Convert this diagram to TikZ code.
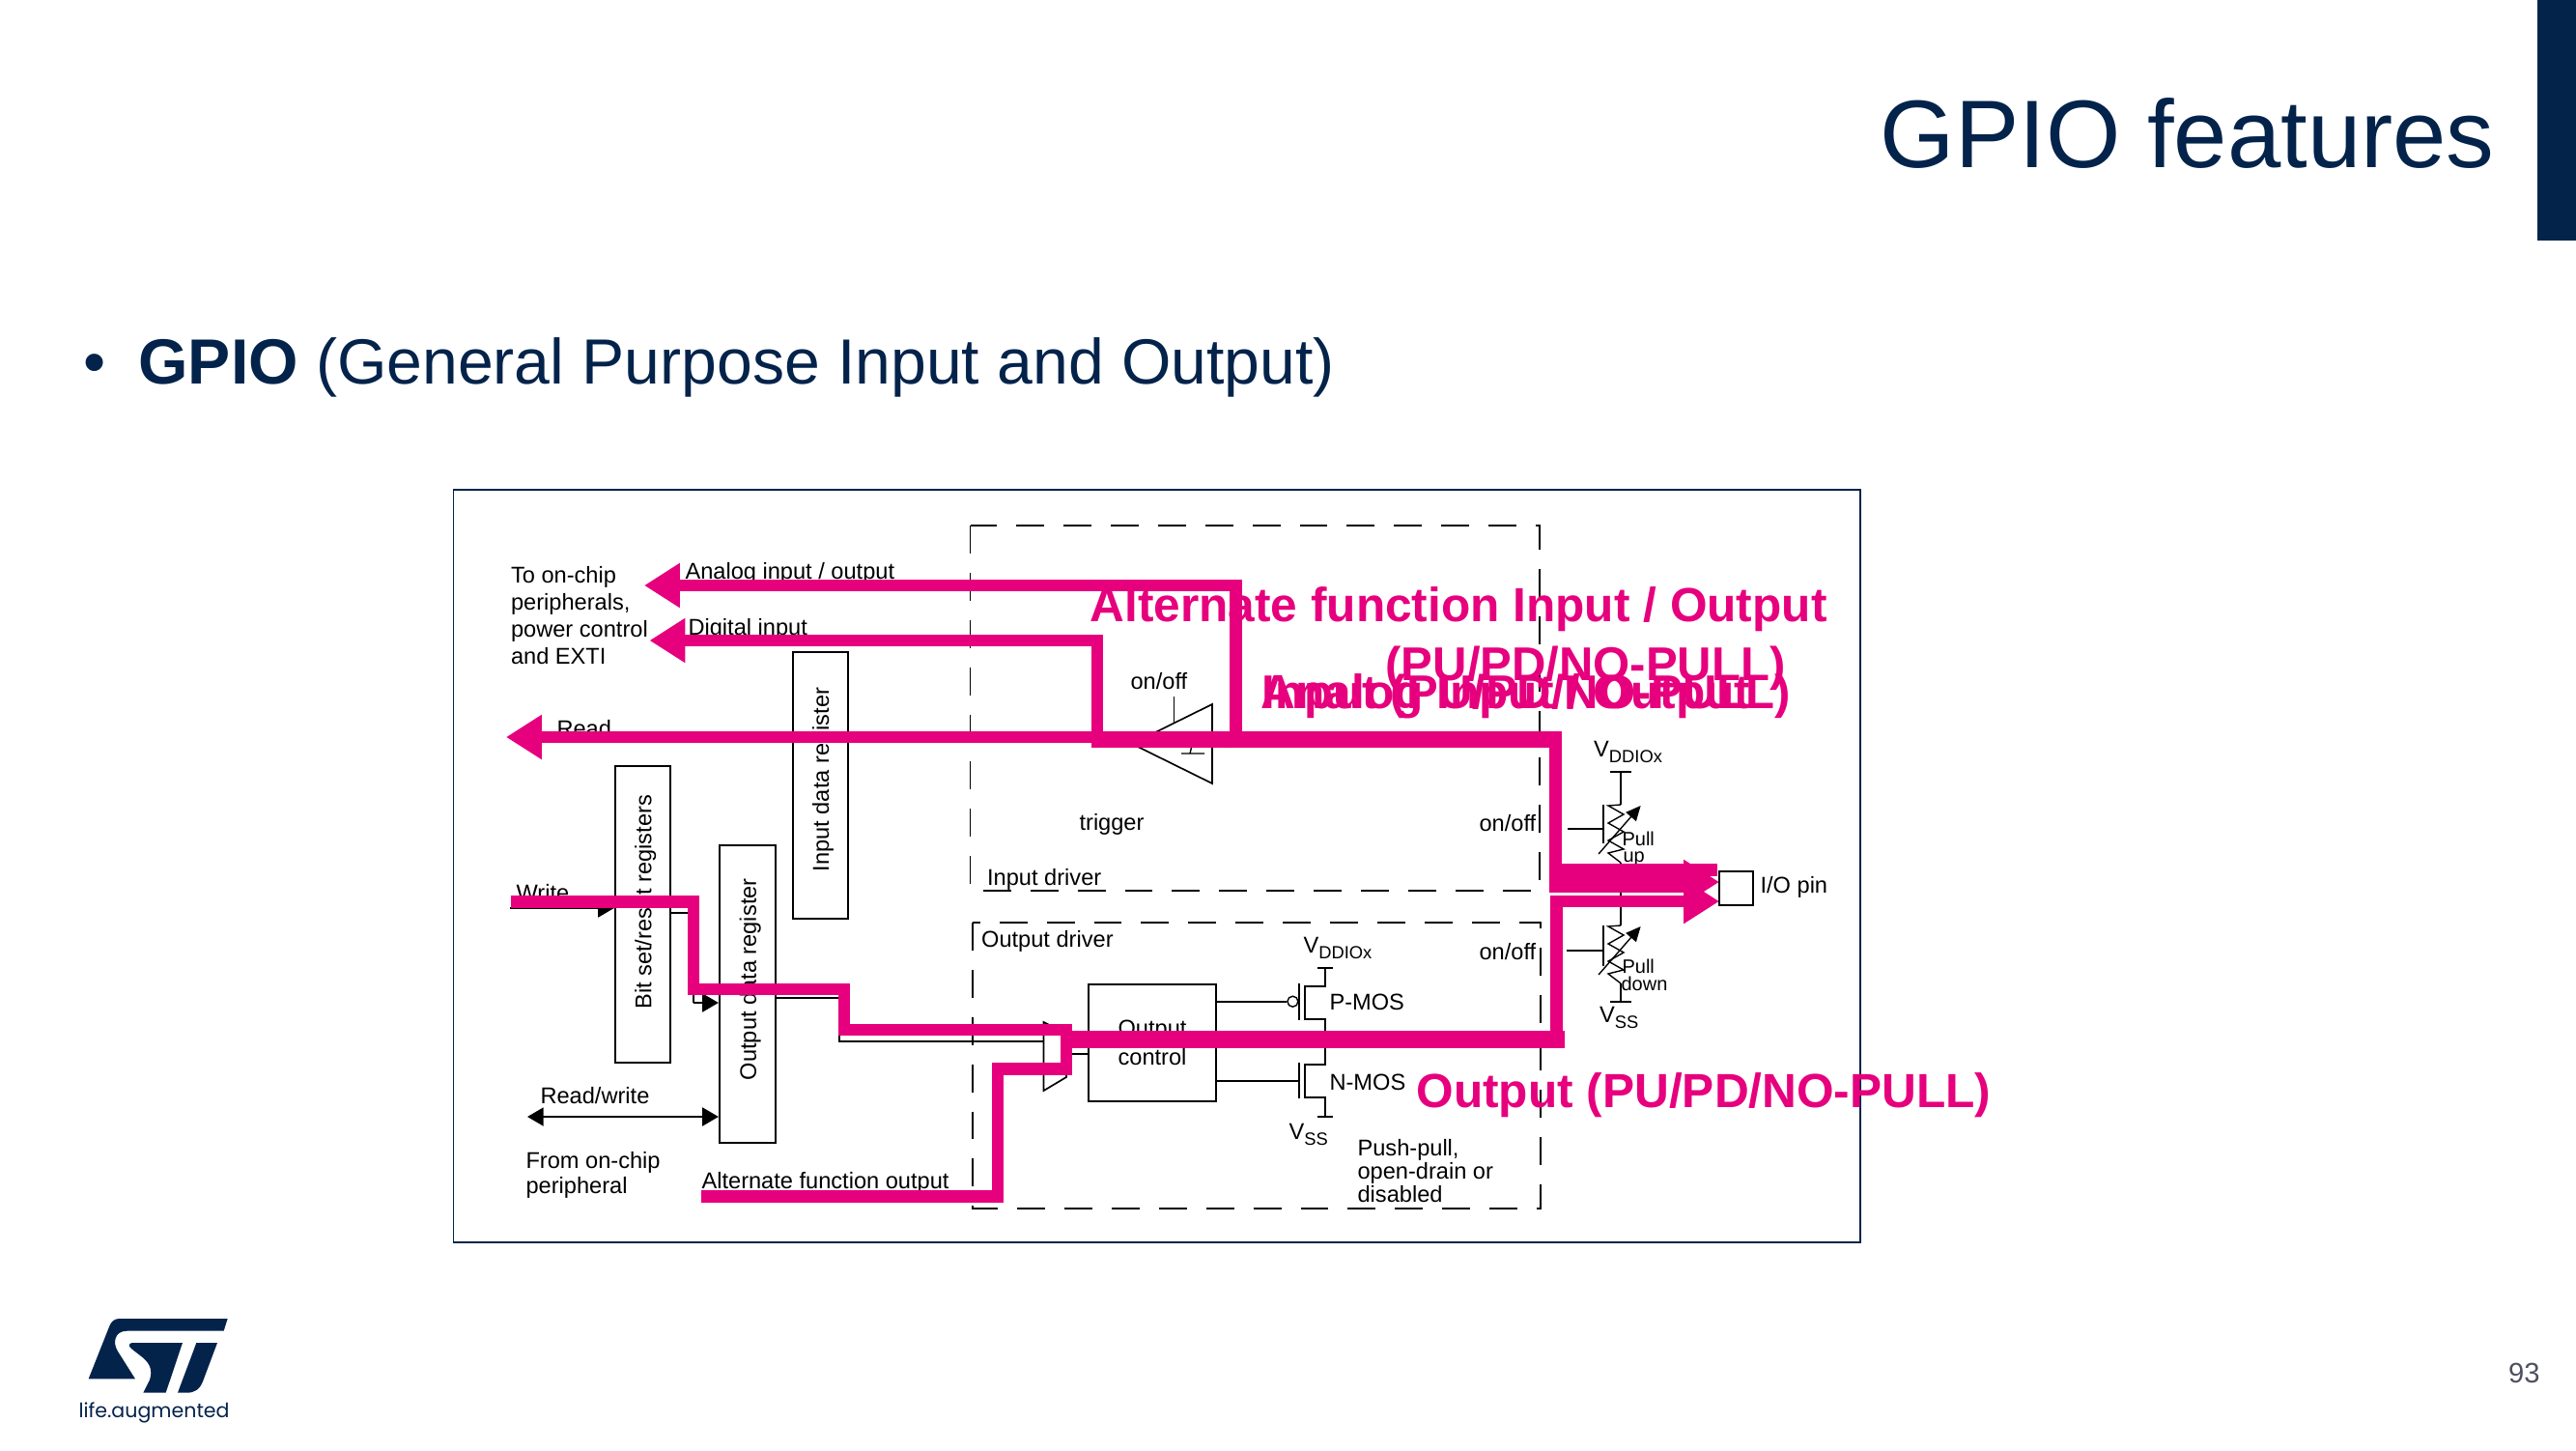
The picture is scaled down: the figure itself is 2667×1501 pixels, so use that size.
\documentclass[tikz,border=0pt]{standalone}
\usepackage{fontspec}
\usepackage{graphicx}
\setmainfont{Liberation Sans}
\newfontfamily\logofont{Poppins}
\usetikzlibrary{arrows.meta}

\definecolor{stblue}{HTML}{03234B}
\definecolor{stpink}{HTML}{E6007E}
\definecolor{pagegray}{HTML}{4F5060}
\newcommand{\px}{0.36pt}
\newcommand{\vsub}[1]{V\raisebox{-2.4pt}{\fontsize{6.6}{7}\selectfont #1}}
\newcommand{\vlabel}[2]{\rotatebox{90}{\hspace{#1}\rule{0pt}{8.1pt}#2}}

\tikzstyle{register} = [rectangle, draw=black, line width=0.8pt, inner sep=0pt, font=\fontsize{8.5}{10}\selectfont]
\tikzstyle{pinbox} = [rectangle, draw=black, line width=0.7pt, inner sep=0pt, minimum width=35*\px, minimum height=35*\px]
\tikzstyle{bubble} = [circle, draw=black, line width=0.5pt, inner sep=0pt, minimum size=11*\px]
\tikzstyle{diagtext} = [anchor=base west, inner sep=0pt, font=\fontsize{8.5}{10}\selectfont]
\tikzstyle{smalltext} = [anchor=base west, inner sep=0pt, font=\fontsize{7.2}{8}\selectfont]
\tikzstyle{blocktext} = [anchor=north west, inner sep=0pt, align=left]
\tikzstyle{overlay} = [anchor=base west, inner sep=0pt, text=stpink, font=\fontsize{17.85}{22}\selectfont\bfseries]
\tikzstyle{overlaypull} = [overlay, font=\fontsize{17.65}{22}\selectfont\bfseries]
\tikzstyle{driver} = [draw=black, line width=0.6pt, dash pattern=on 10.4pt off 7.2pt]
\tikzstyle{wire} = [draw=black, line width=0.5pt]
\tikzstyle{boldwire} = [draw=black, line width=0.8pt]
\tikzstyle{arrow} = [boldwire,-{Triangle[length=6pt,width=6.8pt]}]
\tikzstyle{bothways} = [boldwire,{Triangle[length=6pt,width=6.8pt]}-{Triangle[length=6pt,width=6.8pt]}]
\tikzstyle{pinkline} = [draw=stpink, line width=4.5pt]
\tikzstyle{pinkbus} = [draw=stpink, line width=6.7pt]
\tikzstyle{pinkarrow} = [pinkline,-{Triangle[length=13.3pt,width=15.8pt]}]

\begin{document}
\begin{tikzpicture}[x=0.36pt,y=-0.36pt]
\useasboundingbox (0,0) rectangle (2667,1501);

	%Slide furniture
	\fill[stblue] (2627,0) rectangle (2667,249);
	\node[anchor=base east, inner sep=0pt, text=stblue, font=\fontsize{35.8}{40}\selectfont](Title) at (2583,174) {GPIO features};
	\node[anchor=base west, inner sep=0pt, text=stblue, font=\fontsize{23.8}{28}\selectfont](Bullet) at (86,397) {•};
	\node[anchor=base west, inner sep=0pt, text=stblue, font=\fontsize{23.8}{28}\selectfont](Heading) at (143,397) {\textbf{GPIO} (General Purpose Input and Output)};
	\node[anchor=base east, inner sep=0pt, text=pagegray, font=\fontsize{10.5}{12}\selectfont](PageNo) at (2630,1431) {93};
	\draw[stblue, line width=0.7pt] (469.5,507) rectangle (1925.5,1286);

	%Logo, traced in its own grid
	\begin{scope}[shift={(60,1340)},x=0.12pt,y=-0.12pt]
		\fill[stblue] (527,75) -- (190,75) .. controls (175,75) and (165,85) .. (160,98) -- (95,262) -- (240,262) -- (185,175) .. controls (170,150) and (175,113) .. (215,113) -- (515,113) -- cycle;
		\fill[stblue] (232,150) -- (387,150) -- (335,305) -- (265,305) -- (285,265) .. controls (295,235) and (285,215) .. (265,197) -- (228,168) .. controls (218,160) and (220,150) .. (232,150) -- cycle;
		\fill[stblue] (430,150) -- (495,150) -- (450,270) .. controls (440,295) and (425,305) .. (400,305) -- (372,305) -- cycle;
	\end{scope}
	\node[anchor=base west, inner sep=0pt, text=stblue, font=\logofont\fontsize{7.4}{9}\selectfont](LogoText) at (81,1467.7) {life.augmented};

	%Driver outlines
	\path[driver] (1004.5,544) rectangle (1594,921.7);
	\path[driver] (1006.7,955) rectangle (1595,1250.7);

	%Nodes for the registers and the output block
	\node[register, minimum width=56.6*\px, minimum height=276*\px](InputRegister) at (849.3,813) {\vlabel{4.3pt}{Input data register}};
	\node[register, minimum width=57*\px, minimum height=307*\px](BitRegister) at (665.5,946.5) {\vlabel{9.2pt}{Bit set/reset registers}};
	\node[register, minimum width=58*\px, minimum height=308*\px](OutputRegister) at (774,1029) {\vlabel{11pt}{Output data register}};
	\node[register, align=center, minimum width=132*\px, minimum height=121*\px, font=\fontsize{8.5}{11}\selectfont](OutputControl) at (1193,1079.5) {Output\\control};
	\node[pinbox](IOPin) at (1797,919.5) {};
	\node[diagtext](IOLabel) at (1822,924) {I/O pin};

	%Texts of the left side
	\node[blocktext, font=\fontsize{8.5}{10}\selectfont](ToChip) at (528.5,586) {To on-chip\\peripherals,\\power control\\and EXTI};
	\node[diagtext](AnalogLabel) at (709,599) {Analog input / output};
	\node[diagtext](DigitalLabel) at (712,657) {Digital input};
	\node[diagtext](ReadLabel) at (576,762) {Read};
	\node[diagtext](WriteLabel) at (534,932) {Write};
	\node[diagtext](RWLabel) at (559,1142) {Read/write};
	\node[blocktext, font=\fontsize{8.5}{9.4}\selectfont](FromChip) at (544,1192) {From on-chip\\peripheral};
	\node[diagtext](AltLabel) at (726,1230) {Alternate function output};

	%Texts of the driver boxes
	\node[diagtext](InputDriver) at (1021.6,916) {Input driver};
	\node[diagtext](OutputDriver) at (1015.6,980.7) {Output driver};
	\node[diagtext](TriggerLabel) at (1117,859) {trigger};
	\node[diagtext](TriggerOnOff) at (1170,713) {on/off};
	\node[diagtext](PullUpOnOff) at (1531,860) {on/off};
	\node[diagtext](PullDownOnOff) at (1531,993) {on/off};
	\node[diagtext](VddOut) at (1349,986) {\vsub{DDIOx}};
	\node[diagtext](VddPin) at (1649.6,783) {\vsub{DDIOx}};
	\node[diagtext](VssOut) at (1334,1179) {\vsub{SS}};
	\node[diagtext](VssPin) at (1655.5,1058) {\vsub{SS}};
	\node[diagtext](PMosLabel) at (1376,1045.7) {P-MOS};
	\node[diagtext](NMosLabel) at (1376,1128.7) {N-MOS};
	\node[blocktext, font=\fontsize{8.5}{8.6}\selectfont](PushPull) at (1405,1179) {Push-pull,\\open-drain or\\disabled};
	\node[smalltext](PullUpA) at (1679,875) {Pull};
	\node[smalltext](PullUpB) at (1680,892.7) {up};
	\node[smalltext](PullDownA) at (1679,1007.7) {Pull};
	\node[smalltext](PullDownB) at (1678,1025.7) {down};

	%Black arrows of the left side
	\coordinate(WriteIn) at (528,940);
	\coordinate(ReadWriteIn) at (546,1156);
	\coordinate(SetOut) at (718,945);
	\coordinate(SetDown) at (718,1038);
	\coordinate(DataOut) at (869,1033);
	\coordinate(MuxIn) at (1080.5,1078);
	\coordinate(MuxOut) at (1104,1091);
	\path[arrow] (WriteIn) -- (BitRegister.west |- WriteIn);
	\path[bothways] (ReadWriteIn) -- (OutputRegister.west |- ReadWriteIn);
	\path[boldwire] (BitRegister.east |- SetOut) -- (SetOut) -- (SetDown);
	\path[arrow] (SetDown) -- (OutputRegister.west |- SetDown);
	\path[boldwire] (OutputRegister.east |- DataOut) -- (DataOut) |- (MuxIn);
	\path[boldwire] (MuxOut) -- (OutputControl.west |- MuxOut);

	%Mux and trigger
	\draw[wire, line width=0.6pt] (1080.5,1058) -- (1104,1070) -- (1104,1115) -- (1080.5,1129) -- cycle;
	\draw[wire, line width=0.6pt] (1172,770) -- (1255,729) -- (1255,811) -- cycle;
	\draw[wire] (1223,780) -- (1247,780) (1232,780) -- (1236,763);
	\coordinate(TriggerTop) at (1215.6,749);
	\coordinate(TriggerCtl) at (1215.6,721);
	\path[wire] (TriggerCtl) -- (TriggerTop);

	%Output transistors
	\node[bubble](PGate) at (1338.4,1036.7) {};
	\coordinate(NGate) at (1345,1119);
	\path[boldwire] (OutputControl.east |- PGate) -- (PGate);
	\path[boldwire] (OutputControl.east |- NGate) -- (NGate);
	\draw[wire] (1345,1018) -- (1345,1056);
	\draw[wire] (1345,1100) -- (1345,1137);
	\draw[wire] (1364,1002) -- (1380,1002) (1372,1002) -- (1372,1021) -- (1351,1021) -- (1351,1055) -- (1372,1055) -- (1372,1102) -- (1351,1102) -- (1351,1136) -- (1372,1136) -- (1372,1156) (1364,1156) -- (1380,1156);

	%Pull resistors, both drawn alike
	\foreach \top/\bar/\gate/\ctl in {833/40/25/1623.4,958/42/26/1621.7}{
		\begin{scope}[shift={(0,\top)}]
			\draw[wire] (1678,0) -- (1665,1) -- (1681,10) -- (1665,19) -- (1681,28) -- (1665,37) -- (1681,46) -- (1665,50) -- (1678,60);
			\draw[wire] (1660,0) -- (1660,\bar);
			\draw[wire] (\ctl,\gate) -- (1660,\gate);
			\draw[wire,-{Triangle[length=5.5pt,width=5pt]}] (1655,51) -- (1698.6,1);
		\end{scope}
	}
	\draw[wire] (1667,799) -- (1689,799) (1678,799) -- (1678,833);
	\draw[wire] (1678,893) -- (1678,958);
	\draw[wire] (1678,1018) -- (1678,1037) (1667,1037) -- (1689,1037);

	%Coordinates of the highlighted paths
	\coordinate(AnalogStart) at (1279.5,774);
	\coordinate(AnalogTip) at (667,606);
	\coordinate(DigitalStart) at (1136,774);
	\coordinate(DigitalTip) at (672.5,663);
	\coordinate(ReadPin) at (1778,900.5);
	\coordinate(ReadBend) at (1610.5,763);
	\coordinate(ReadTip) at (524,763);
	\coordinate(RailPin) at (1743,918);
	\coordinate(RailBend) at (1610.5,768);
	\coordinate(RailEnd) at (1130,768);
	\coordinate(InBranch) at (1610.5,913);
	\coordinate(InTip) at (1780,913);
	\coordinate(WriteStart) at (528.5,933.5);
	\coordinate(WriteBendA) at (718,1024);
	\coordinate(WriteBendB) at (874,1066);
	\coordinate(OutJoin) at (1104,1076);
	\coordinate(AltStart) at (726,1238.6);
	\coordinate(AltBend) at (1033,1106.5);
	\coordinate(OutRailEnd) at (1620,1076);
	\coordinate(OutBend) at (1611.5,1076);
	\coordinate(OutTip) at (1780,933);

	%Highlighted paths
	\path[pinkarrow] (AnalogStart) |- (AnalogTip);
	\path[pinkarrow] (DigitalStart) |- (DigitalTip);
	\path[pinkarrow] (ReadPin) -| (ReadBend) -- (ReadTip);
	\path[pinkline] (RailPin) -| (RailBend) -- (RailEnd);
	\path[pinkarrow] (InBranch) -- (InTip);
	\path[pinkline] (WriteStart) -| (WriteBendA) -| (WriteBendB) -| (OutJoin);
	\path[pinkline] (AltStart) -| (AltBend) -| (OutJoin);
	\path[pinkbus] (OutJoin) -- (OutRailEnd);
	\path[pinkarrow] (OutBend) |- (OutTip);

	%Overlaid captions
	\node[overlay](AltCaption) at (1128,643) {Alternate function Input / Output};
	\node[overlaypull](AltCaptionPull) at (1434,704) {(PU/PD/NO-PULL)};
	\node[overlaypull](InputCaption) at (1306,733) {Input (PU/PD/NO-PULL)};
	\node[overlay](AnalogCaption) at (1305,733) {Analog Input / Output};
	\node[overlay](OutputCaption) at (1466,1146) {Output (PU/PD/NO-PULL)};
\end{tikzpicture}
\end{document}
